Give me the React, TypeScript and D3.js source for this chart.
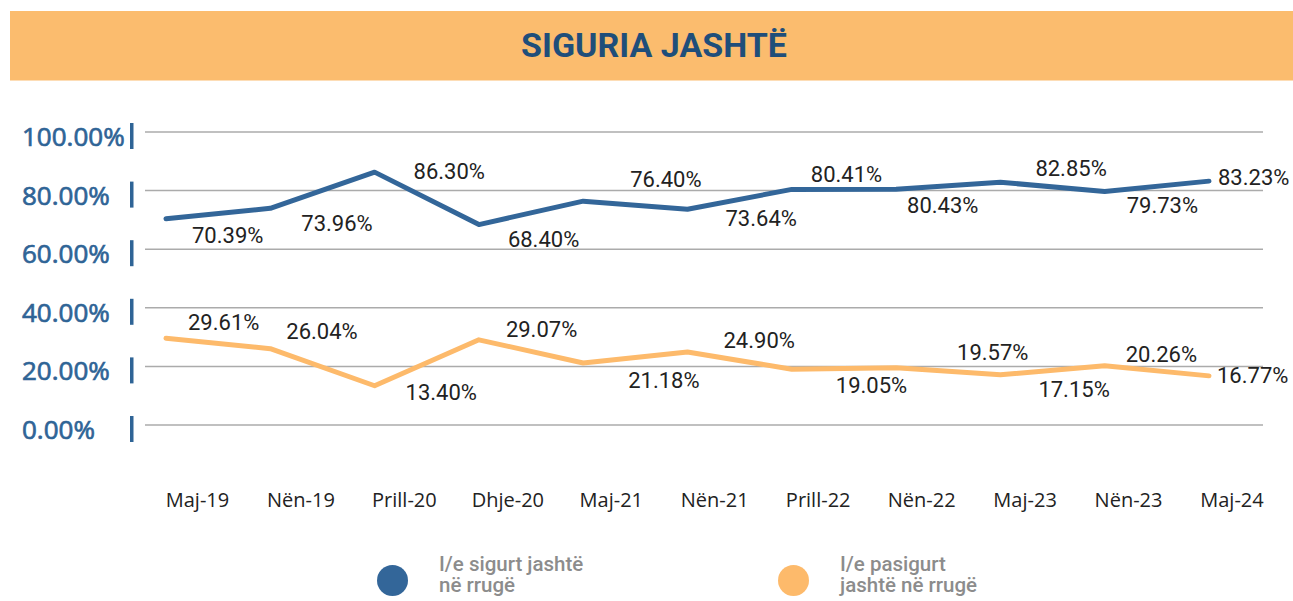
import React from "react";
import * as d3 from "d3";

const categories = ["Maj-19", "Nën-19", "Prill-20", "Dhje-20", "Maj-21", "Nën-21", "Prill-22", "Nën-22", "Maj-23", "Nën-23", "Maj-24"];
const safeValues = [70.39, 73.96, 86.3, 68.4, 76.4, 73.64, 80.41, 80.43, 82.85, 79.73, 83.23];
const unsafeValues = [29.61, 26.04, 13.4, 29.07, 21.18, 24.9, 19.05, 19.57, 17.15, 20.26, 16.77];
const yTicks = [0, 20, 40, 60, 80, 100];
const seriesNames = [["I/e sigurt jashtë", "në rrugë"], ["I/e pasigurt", "jashtë në rrugë"]];
const title = "SIGURIA JASHTË";

// label placement offsets (start x, baseline) relative to each point
const safeLabelOffsets = [[26, 24], [31, 23], [39, 7], [29, 22], [47, -14], [38, 17], [19, -7], [11, 24], [35, -6], [22, 22], [9, 4]];
const unsafeLabelOffsets = [[22, -8], [16, -10], [31, 14], [27, -3], [45, 25], [36, -4], [44, 24], [61, -8], [38, 22], [21, -4], [8, 7]];

const W = 1293;
const H = 601;
const BLUE = "#336699";
const ORANGE = "#FDBA6B";

export default function App() {
  const x = d3.scalePoint<string>().domain(categories).range([166, 1209]);
  const xl = d3.scalePoint<string>().domain(categories).range([197.5, 1232]);
  const y = d3.scaleLinear().domain([0, 100]).range([425, 132]);
  const line = d3
    .line<number>()
    .x((_, i) => x(categories[i]) as number)
    .y((d) => y(d));

  const fmt = (v: number) => v.toFixed(2) + "%";

  const series = [
    { values: safeValues, color: BLUE, offsets: safeLabelOffsets },
    { values: unsafeValues, color: ORANGE, offsets: unsafeLabelOffsets },
  ];

  return (
    <svg width={W} height={H} style={{ position: "absolute", left: 0, top: 0 }}>
      <rect x={0} y={0} width={W} height={H} fill="#ffffff" />
      <rect x={10} y={11} width={W - 10} height={69.5} fill="#FBBC6E" />
      <text x={654} y={57.3} textAnchor="middle" fontFamily="Roboto" fontWeight={700} fontSize={34} fill="#1F4E7A">
        {title}
      </text>

      {yTicks.map((t) => (
        <g key={t}>
          <line x1={145} x2={1263} y1={y(t)} y2={y(t)} stroke="#ababab" strokeWidth={1.5} />
          <text
            x={22}
            y={y(t) + 14}
            fontFamily="Open Sans"
            fontSize={26}
            fill="#2F6496"
            stroke="#2F6496"
            strokeWidth={0.7}
          >
            {t.toFixed(2) + "%"}
          </text>
          <rect x={130} y={y(t) - 9} width={3.5} height={26} fill="#2F6496" />
        </g>
      ))}

      {series.map((s, si) => (
        <path key={si} d={line(s.values) as string} fill="none" stroke={s.color} strokeWidth={5} strokeLinecap="round" strokeLinejoin="round" />
      ))}

      {series.map((s, si) =>
        s.values.map((v, i) => (
          <text
            key={si + "-" + i}
            x={(x(categories[i]) as number) + s.offsets[i][0]}
            y={y(v) + s.offsets[i][1]}
            fontFamily="Roboto"
            fontSize={22}
            fill="#222222"
          >
            {fmt(v)}
          </text>
        ))
      )}

      {categories.map((c) => (
        <text key={c} x={xl(c)} y={507} textAnchor="middle" fontFamily="Open Sans" fontSize={20} fill="#222222">
          {c}
        </text>
      ))}

      {[BLUE, ORANGE].map((col, i) => {
        const cx = i === 0 ? 392.5 : 793.5;
        return (
          <g key={i}>
            <circle cx={cx} cy={580.5} r={15.5} fill={col} />
            {seriesNames[i].map((ln, j) => (
              <text key={j} x={cx + 46.5} y={571 + j * 20.5} fontFamily="Roboto" fontWeight={500} fontSize={20.5} fill="#8c8c8c">
                {ln}
              </text>
            ))}
          </g>
        );
      })}
    </svg>
  );
}
